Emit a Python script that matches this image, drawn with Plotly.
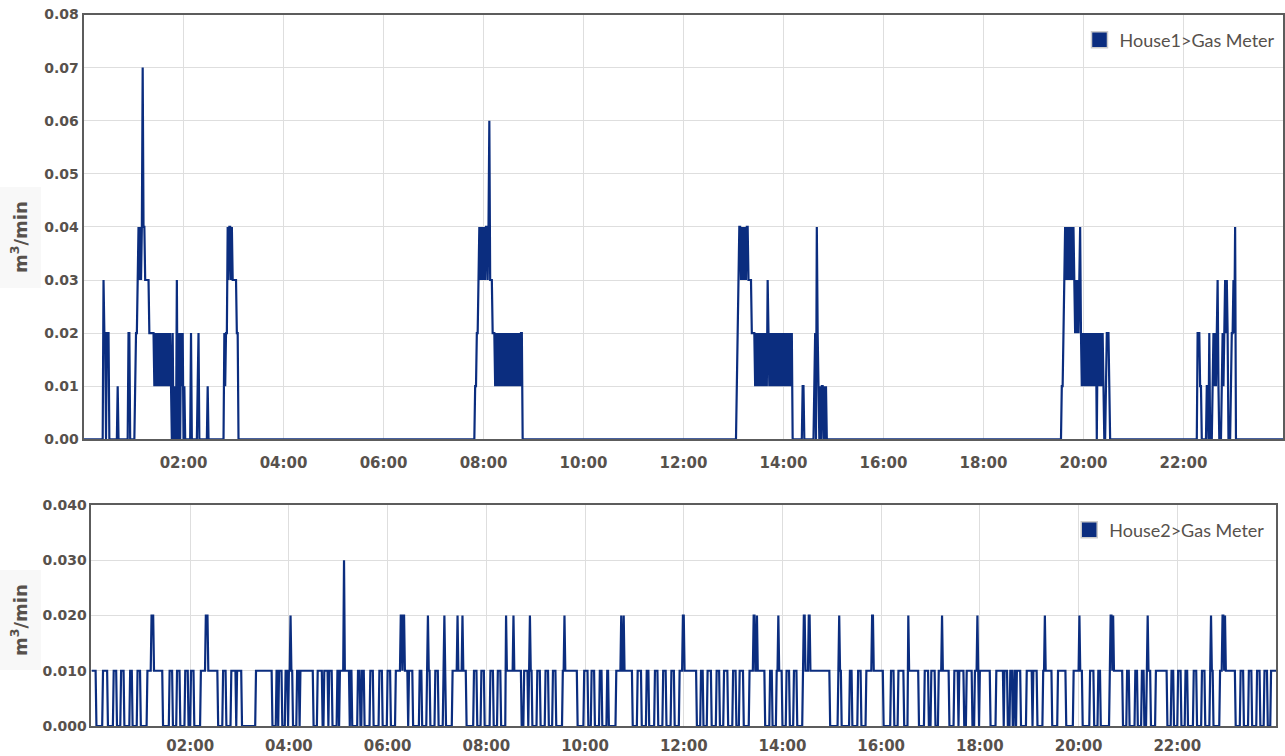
import pandas as pd
import plotly.graph_objects as go

DAY = pd.Timestamp("2016-03-01")
N_MIN = 1440
NAVY = "#0b2d7f"
GRID = "#dedede"
AXIS = "#5c5c5c"
TEXT = "#57514c"

# House 1 gas meter: each burst starts at a clock time and lists
# consecutive per-minute readings in hundredths of m3/min.
h1_burst_start = ["00:24", "00:41", "00:54", "01:02", "02:49",
                  "07:50", "13:04", "19:34", "22:17"]
h1_burst_hundredths = [
    "3220222",
    "1",
    "22",
    "12234343474433333222222" "121212121212121212121" "0200103002021201"
    "0000000" "2" "0000000" "12" "0000000000" "1",
    "21224344343333322",
    "112234343434344346333222" "12121212121212121212121212121212" "2",
    "1234434343434433332222" "121212121212121" "32"
    "121212121212121212121212121" "2" "000000000000" "11"
    "000000000000" "120421010110101",
    "112343434343434323232342" "121212121212121212" "02" "121212" "10012221",
    "2221100000011020001212123100012123232000122324",
]

# House 2 gas meter: minute-of-day intervals reading 0.010 m3/min,
# plus the minutes where the reading was higher.
h2_on_from = [0, 14, 27, 36, 47, 56, 68, 95, 104, 114, 121, 133, 160, 170, 177,
              200, 225, 228, 236, 240, 250, 254, 275, 283, 289, 299, 302, 315,
              324, 329, 339, 350, 360, 370, 386, 399, 408, 418, 428, 439, 465,
              474, 485, 494, 504, 526, 532, 542, 552, 561, 573, 599, 608, 618,
              627, 638, 664, 675, 685, 695, 705, 715, 741, 749, 760, 769, 780,
              788, 800, 825, 833, 845, 854, 865, 908, 922, 932, 942, 972, 981,
              993, 1013, 1021, 1030, 1049, 1055, 1064, 1074, 1080, 1100, 1110,
              1117, 1122, 1125, 1137, 1145, 1157, 1175, 1194, 1214, 1224, 1238,
              1259, 1269, 1277, 1283, 1294, 1313, 1321, 1330, 1340, 1350, 1360,
              1372, 1397, 1407, 1417, 1426, 1434]
h2_on_to = [5, 19, 30, 39, 49, 59, 86, 98, 107, 117, 124, 153, 163, 175, 182,
            219, 226, 231, 238, 244, 252, 269, 280, 287, 292, 300, 313, 316,
            326, 331, 342, 353, 363, 384, 390, 401, 411, 421, 430, 455, 468,
            477, 488, 497, 522, 530, 535, 545, 555, 564, 590, 603, 611, 620,
            628, 657, 668, 677, 688, 698, 708, 735, 743, 753, 763, 773, 783,
            792, 818, 827, 839, 848, 857, 897, 911, 924, 935, 962, 975, 987,
            1005, 1017, 1025, 1042, 1053, 1060, 1070, 1078, 1092, 1108, 1113,
            1119, 1123, 1129, 1143, 1149, 1167, 1184, 1204, 1218, 1226, 1253,
            1261, 1271, 1279, 1287, 1307, 1315, 1324, 1332, 1343, 1353, 1363,
            1390, 1400, 1410, 1420, 1429, 1440]
h2_peak_minute = [73, 74, 75, 139, 140, 141, 242, 307, 376, 377, 379, 380, 409,
                  429, 445, 451, 504, 513, 533, 575, 644, 647, 719, 720, 805,
                  806, 809, 835, 866, 867, 872, 873, 909, 949, 950, 993, 1034,
                  1077, 1159, 1201, 1239, 1240, 1242, 1284, 1361, 1375, 1376,
                  1378]
h2_peak_value = [0.02, 0.02, 0.02, 0.02, 0.02, 0.02, 0.02, 0.03, 0.02, 0.02,
                 0.02, 0.02, 0.02, 0.02, 0.02, 0.02, 0.02, 0.02, 0.02, 0.02,
                 0.02, 0.02, 0.02, 0.02, 0.02, 0.02, 0.02, 0.02, 0.02, 0.02,
                 0.02, 0.02, 0.02, 0.02, 0.02, 0.02, 0.02, 0.02, 0.02, 0.02,
                 0.02, 0.02, 0.02, 0.02, 0.02, 0.02, 0.02, 0.02]

tick_hours = [2, 4, 6, 8, 10, 12, 14, 16, 18, 20, 22]


def clock_to_minute(hhmm):
    hh, mm = hhmm.split(":")
    return int(hh) * 60 + int(mm)


# per-minute series for a full day
h1 = [0.0] * (N_MIN + 1)
for start, digits in zip(h1_burst_start, h1_burst_hundredths):
    m0 = clock_to_minute(start)
    for i, ch in enumerate(digits):
        h1[m0 + i] = int(ch) / 100

h2 = [0.0] * (N_MIN + 1)
for a, b in zip(h2_on_from, h2_on_to):
    for m in range(a, b + 1):
        h2[m] = 0.01
for m, v in zip(h2_peak_minute, h2_peak_value):
    h2[m] = v

times = DAY + pd.to_timedelta(list(range(N_MIN + 1)), unit="min")

fig = go.Figure()
fig.add_trace(go.Scatter(x=times, y=h1, mode="lines", line=dict(color=NAVY, width=2.2),
                         xaxis="x", yaxis="y", showlegend=False))
fig.add_trace(go.Scatter(x=times, y=h2, mode="lines", line=dict(color=NAVY, width=2.2),
                         xaxis="x2", yaxis="y2", showlegend=False))

# legend swatches
for name, leg, xa, ya in [("House1>Gas Meter", "legend", "x", "y"),
                          ("House2>Gas Meter", "legend2", "x2", "y2")]:
    fig.add_trace(go.Scatter(x=[None], y=[None], mode="markers", name=name,
                             marker=dict(symbol="square", size=16, color=NAVY,
                                         line=dict(color="#cccccc", width=1.5)),
                             xaxis=xa, yaxis=ya, legend=leg, showlegend=True))

x_tick_font = dict(family="DejaVu Sans", size=15, color=TEXT, weight="bold")
y_tick_font = dict(family="DejaVu Sans", size=14, color=TEXT, weight="bold")
tickvals = [DAY + pd.Timedelta(hours=h) for h in tick_hours]


def x_axis(domain, anchor, standoff):
    return dict(domain=domain, anchor=anchor, type="date",
                range=[DAY, DAY + pd.Timedelta(days=1)],
                tickvals=tickvals, tickformat="%H:%M", tickfont=x_tick_font,
                ticklabelstandoff=standoff,
                showgrid=True, gridcolor=GRID, gridwidth=1,
                showline=True, linecolor=AXIS, linewidth=2, mirror=True,
                ticks="", zeroline=False, automargin=False, fixedrange=True)


def y_axis(domain, anchor, top, fmt):
    return dict(domain=domain, anchor=anchor, range=[0, top], dtick=0.01,
                tick0=0, tickformat=fmt, tickfont=y_tick_font,
                showgrid=True, gridcolor=GRID, gridwidth=1,
                showline=True, linecolor=AXIS, linewidth=2, mirror=True,
                ticks="", zeroline=False, automargin=False, fixedrange=True)


legend_font = dict(family="Lato", size=18, color=TEXT)
title_font = dict(family="DejaVu Sans", size=18, color=TEXT, weight="bold")


def unit_title(y_px):
    return dict(text="m<sup>3</sup>/min", textangle=-90,
                x=19 / 1285, y=1 - y_px / 756, xanchor="center", yanchor="middle",
                xref="paper", yref="paper", showarrow=False, font=title_font)


def unit_box(y0_px, y1_px):
    return dict(type="rect", xref="paper", yref="paper", layer="below",
                x0=0, x1=41 / 1285, y0=1 - y1_px / 756, y1=1 - y0_px / 756,
                fillcolor="#f8f8f8", line=dict(width=0))


fig.update_layout(
    width=1285, height=756,
    margin=dict(l=0, r=0, t=0, b=0),
    paper_bgcolor="white", plot_bgcolor="white",
    xaxis=x_axis([0.065, 0.9988], "y", 9),
    yaxis=y_axis([0.4189, 0.9808], "x", 0.08, ".2f"),
    xaxis2=x_axis([0.0712, 0.993], "y2", 5),
    yaxis2=y_axis([0.0397, 0.332], "x2", 0.04, ".3f"),
    legend=dict(x=0.9965, xanchor="right", y=0.947, yanchor="middle",
                bgcolor="rgba(0,0,0,0)", font=legend_font, itemwidth=30),
    legend2=dict(x=0.9885, xanchor="right", y=0.299, yanchor="middle",
                 bgcolor="rgba(0,0,0,0)", font=legend_font, itemwidth=30),
    annotations=[unit_title(237), unit_title(620)],
    shapes=[unit_box(187, 288), unit_box(570, 670)],
)

fig.write_html("out.html")
